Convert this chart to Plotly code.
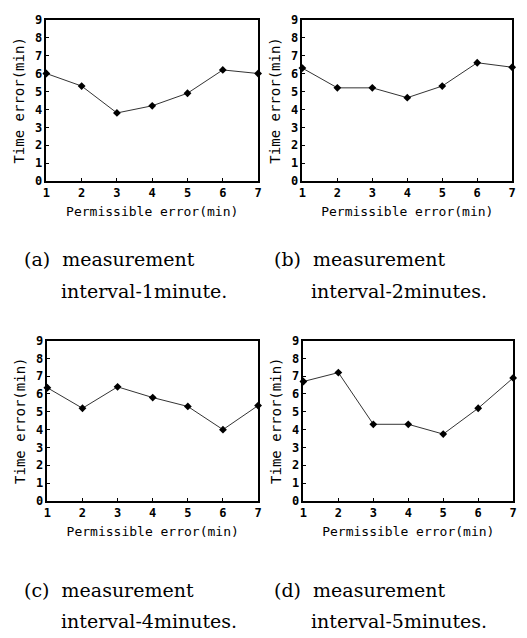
import plotly.graph_objects as go

permissible = [1, 2, 3, 4, 5, 6, 7]
err_1min = [6.0, 5.3, 3.8, 4.2, 4.9, 6.2, 6.0]
err_2min = [6.3, 5.2, 5.2, 4.65, 5.3, 6.6, 6.35]
err_4min = [6.35, 5.2, 6.4, 5.8, 5.3, 4.0, 5.35]
err_5min = [6.7, 7.2, 4.3, 4.3, 3.75, 5.2, 6.9]
captions = [
    ("(a)", "measurement", "interval-1minute."),
    ("(b)", "measurement", "interval-2minutes."),
    ("(c)", "measurement", "interval-4minutes."),
    ("(d)", "measurement", "interval-5minutes."),
]
x_title = "Permissible error(min)"
y_title = "Time error(min)"

W, H = 527, 638
def fx(px):
    return px / W
def fy(py):
    return 1 - py / H

# panel boxes in pixels: (left, right, top, bottom)
boxes = [(43, 258, 13, 178), (303, 516, 13, 178), (44, 258, 341, 505), (304, 517, 341, 505)]
series = [err_1min, err_2min, err_4min, err_5min]

fig = go.Figure()
mono = "DejaVu Sans Mono"
serif = "DejaVu Serif"

for i, (box, ys) in enumerate(zip(boxes, series)):
    n = "" if i == 0 else str(i + 1)
    l, r, t, b = box
    fig.add_trace(go.Scatter(
        x=permissible, y=ys, mode="lines+markers",
        line=dict(color="#333333", width=1),
        marker=dict(symbol="diamond", size=6, color="black"),
        xaxis="x" + n, yaxis="y" + n, cliponaxis=False, showlegend=False,
    ))
    fig.layout["xaxis" + n] = dict(
        domain=[fx(l), fx(r)], range=[1, 7], anchor="y" + n,
        tickvals=permissible, ticks="inside", ticklen=3, tickcolor="black",
        showline=True, linecolor="black", linewidth=1.5, mirror=True,
        showgrid=False, zeroline=False,
        tickfont=dict(family=mono, size=12, color="black", weight="bold"),
        title=dict(text=x_title, font=dict(family=mono, size=13, color="black"), standoff=8),
    )
    fig.layout["yaxis" + n] = dict(
        domain=[fy(b), fy(t)], range=[0, 9], anchor="x" + n,
        tickvals=list(range(10)), ticks="inside", ticklen=3, tickcolor="black",
        showline=True, linecolor="black", linewidth=1.5, mirror=True,
        showgrid=False, zeroline=False,
        tickfont=dict(family=mono, size=12, color="black", weight="bold"),
        title=dict(text=y_title, font=dict(family=mono, size=14, color="black"), standoff=7),
    )
    lab, l1, l2 = captions[i]
    cx = 18 if i % 2 == 0 else 272
    cy1 = 258 if i < 2 else 596
    fig.add_annotation(x=fx(cx), y=fy(cy1), xref="paper", yref="paper",
                       text=lab + "  " + l1, showarrow=False, xanchor="left", yanchor="middle",
                       font=dict(family=serif, size=19, color="black"))
    fig.add_annotation(x=fx(cx + 38), y=fy(cy1 + 32), xref="paper", yref="paper",
                       text=l2, showarrow=False, xanchor="left", yanchor="middle",
                       font=dict(family=serif, size=19, color="black"))

fig.update_layout(
    width=W, height=H, margin=dict(l=0, r=0, t=0, b=0),
    paper_bgcolor="white", plot_bgcolor="white",
)
fig.write_html("out.html", config={"displayModeBar": False},
               post_script="document.body.style.margin='0';document.body.style.overflow='hidden';")
